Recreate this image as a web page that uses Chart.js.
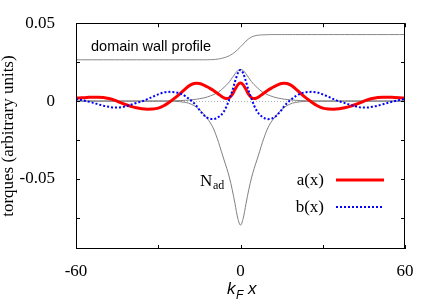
<!DOCTYPE html>
<html>
<head>
<meta charset="utf-8">
<script src="https://cdn.jsdelivr.net/npm/chart.js@4.4.1/dist/chart.umd.min.js"></script>
<style>
html, body { margin: 0; padding: 0; background: #fff; }
</style>
</head>
<body>
<canvas id="chart" width="436" height="305"></canvas>
<script>
// sample positions (k_F x), finer near the wall
var xs = [-60,-58,-56,-54,-52,-50,-48,-46,-44,-42,-40,-38,-36,-34,-32,-30,-28,-26,-24,-22,
    -20,-19,-18,-17,-16,-15,-14,-13,-12,-11,-10,-9,-8,-7,-6,-5,-4,-3,-2,-1,0,
    1,2,3,4,5,6,7,8,9,10,11,12,13,14,15,16,17,18,19,20,
    22,24,26,28,30,32,34,36,38,40,42,44,46,48,50,52,54,56,58,60];

var wallProfile = [0.0265,0.0265,0.0265,0.0265,0.0265,0.0265,0.0265,0.0265,0.0265,0.0265,0.0265,0.0265,0.0265,0.0265,0.0265,0.0265,0.0265,0.0265,0.0265,0.0265,
    0.0265,0.0265,0.0265,0.0265,0.0265,0.0265,0.0265,0.0265,0.0265,0.0266,0.0266,0.0268,0.0270,0.0274,0.0278,0.0284,0.0292,0.0302,0.0315,0.0331,0.0348,
    0.0366,0.0385,0.0400,0.0411,0.0418,0.0422,0.0424,0.0425,0.0426,0.0426,0.0427,0.0427,0.0427,0.0427,0.0427,0.0427,0.0427,0.0427,0.0427,0.0427,
    0.0427,0.0427,0.0427,0.0427,0.0427,0.0427,0.0427,0.0427,0.0427,0.0427,0.0427,0.0427,0.0427,0.0427,0.0427,0.0427,0.0427,0.0427,0.0427,0.0427];

var nAd = [0,0,0,0,0,0,0,0,0,0,0,0,0,0,0,0,0,0,-0.0002,-0.0004,
    -0.0009,-0.0013,-0.0020,-0.0029,-0.0040,-0.0055,-0.0072,-0.0093,-0.0115,-0.0140,-0.0172,-0.0215,-0.0265,-0.0322,-0.0378,-0.0432,-0.0494,-0.0570,-0.0660,-0.0752,-0.0797,
    -0.0752,-0.0660,-0.0570,-0.0494,-0.0432,-0.0378,-0.0322,-0.0265,-0.0215,-0.0172,-0.0140,-0.0115,-0.0093,-0.0072,-0.0055,-0.0040,-0.0029,-0.0020,-0.0013,-0.0009,
    -0.0004,-0.0002,0,0,0,0,0,0,0,0,0,0,0,0,0,0,0,0,0,0];

var grayBump = [0,0,0,0,0,0,0,0,0,0,0,0,0,0,0,0,0,0.0001,0.0002,0.0003,
    0.0005,0.0006,0.0008,0.0010,0.0012,0.0015,0.0018,0.0022,0.0027,0.0033,0.0040,0.0048,0.0058,0.0072,0.0088,0.0105,0.0125,0.0150,0.0175,0.0196,0.0203,
    0.0196,0.0175,0.0150,0.0125,0.0105,0.0088,0.0072,0.0058,0.0048,0.0040,0.0033,0.0027,0.0022,0.0018,0.0015,0.0012,0.0010,0.0008,0.0006,0.0005,
    0.0003,0.0002,0.0001,0,0,0,0,0,0,0,0,0,0,0,0,0,0,0,0,0];

var aValues = [0.0019,0.0021,0.0023,0.0025,0.0025,0.0023,0.0016,0.0006,-0.0008,-0.0022,-0.0034,-0.0043,-0.0049,-0.0052,-0.0051,-0.0045,-0.0030,-0.0007,0.0019,0.0048,
    0.0080,0.0095,0.0106,0.0113,0.0115,0.0113,0.0107,0.0099,0.0090,0.0080,0.0069,0.0057,0.0044,0.0031,0.0021,0.0016,0.0022,0.0042,0.0075,0.0104,0.0116,
    0.0104,0.0075,0.0042,0.0022,0.0016,0.0021,0.0031,0.0044,0.0057,0.0069,0.0080,0.0090,0.0099,0.0107,0.0113,0.0115,0.0113,0.0106,0.0095,0.0080,
    0.0048,0.0019,-0.0007,-0.0030,-0.0045,-0.0051,-0.0052,-0.0049,-0.0043,-0.0034,-0.0022,-0.0008,0.0006,0.0016,0.0023,0.0025,0.0025,0.0023,0.0021,0.0019];

var bValues = [0.0013,0.0007,-0.0001,-0.0010,-0.0020,-0.0030,-0.0037,-0.0042,-0.0041,-0.0034,-0.0024,-0.0012,-0.0002,0.0012,0.0028,0.0043,0.0055,0.0059,0.0057,0.0049,
    0.0030,0.0017,0.0003,-0.0012,-0.0032,-0.0056,-0.0078,-0.0096,-0.0108,-0.0114,-0.0116,-0.0112,-0.0102,-0.0088,-0.0065,-0.0030,0.0015,0.0065,0.0125,0.0178,0.0200,
    0.0178,0.0125,0.0065,0.0015,-0.0030,-0.0065,-0.0088,-0.0102,-0.0112,-0.0116,-0.0114,-0.0108,-0.0096,-0.0078,-0.0056,-0.0032,-0.0012,0.0003,0.0017,0.0030,
    0.0049,0.0057,0.0059,0.0055,0.0043,0.0028,0.0012,-0.0002,-0.0012,-0.0024,-0.0034,-0.0041,-0.0042,-0.0037,-0.0030,-0.0020,-0.0010,-0.0001,0.0007,0.0013];

var xTickMarks = [-60, -30, 0, 30, 60];
var xTickLabels = [-60, 0, 60];
var yTickMarks = [-0.075, -0.05, -0.025, 0, 0.025, 0.05];
var yTickLabels = [-0.05, 0, 0.05];

var SERIF = '"Liberation Serif", "Times New Roman", serif';
var SANS = '"Liberation Sans", Arial, sans-serif';

function points(values) {
    var pts = [];
    for (var i = 0; i < xs.length; i++) {
        pts.push({x: xs[i], y: values[i]});
    }
    return pts;
}

function line(label, values, color, width, dash, order) {
    return {
        label: label,
        data: points(values),
        borderColor: color,
        borderWidth: width,
        borderDash: dash,
        pointRadius: 0,
        fill: false,
        cubicInterpolationMode: 'monotone',
        order: order
    };
}

// box, inward ticks, zero axis and the loose texts
var decorations = {
    id: 'decorations',
    beforeDatasetsDraw: function(chart) {
        var ctx = chart.ctx, area = chart.chartArea;
        var y0 = chart.scales.y.getPixelForValue(0);
        ctx.save();
        ctx.strokeStyle = '#b0b0b0';
        ctx.lineWidth = 1;
        ctx.setLineDash([1, 2]);
        ctx.beginPath();
        ctx.moveTo(area.left, Math.round(y0) + 0.5);
        ctx.lineTo(area.right, Math.round(y0) + 0.5);
        ctx.stroke();
        ctx.restore();
    },
    afterDatasetsDraw: function(chart) {
        var ctx = chart.ctx, area = chart.chartArea;
        var sx = chart.scales.x, sy = chart.scales.y;
        var i, p;
        ctx.save();
        ctx.strokeStyle = '#000';
        ctx.lineWidth = 1;
        ctx.strokeRect(Math.round(area.left) + 0.5, Math.round(area.top) + 0.5,
            Math.round(area.right - area.left) - 1, Math.round(area.bottom - area.top) - 1);
        ctx.beginPath();
        for (i = 0; i < xTickMarks.length; i++) {
            p = Math.round(sx.getPixelForValue(xTickMarks[i])) + 0.5;
            ctx.moveTo(p, area.top); ctx.lineTo(p, area.top + 4);
            ctx.moveTo(p, area.bottom); ctx.lineTo(p, area.bottom - 4);
        }
        for (i = 0; i < yTickMarks.length; i++) {
            p = Math.round(sy.getPixelForValue(yTickMarks[i])) + 0.5;
            ctx.moveTo(area.left, p); ctx.lineTo(area.left + 4, p);
            ctx.moveTo(area.right, p); ctx.lineTo(area.right - 4, p);
        }
        ctx.stroke();

        // domain wall label
        ctx.fillStyle = '#000';
        ctx.textBaseline = 'alphabetic';
        ctx.textAlign = 'left';
        ctx.font = '14.5px ' + SANS;
        ctx.fillText('domain wall profile', 91, 51);

        // N_ad label
        ctx.font = '17px ' + SERIF;
        ctx.fillText('N', 200, 186);
        ctx.font = '12px ' + SERIF;
        ctx.fillText('ad', 213, 189);

        // x axis title
        ctx.font = 'italic 17px ' + SANS;
        ctx.fillText('k', 227, 294);
        ctx.font = 'italic 12px ' + SANS;
        ctx.fillText('F', 236, 299);
        ctx.font = 'italic 17px ' + SANS;
        ctx.fillText('x', 248, 294);

        // key
        var keys = [chart.data.datasets[3], chart.data.datasets[4]];
        var keyY = [180, 207];
        ctx.textAlign = 'right';
        ctx.textBaseline = 'middle';
        ctx.font = '17px ' + SERIF;
        for (i = 0; i < keys.length; i++) {
            ctx.fillText(keys[i].label, 324, keyY[i] + 1);
            ctx.strokeStyle = keys[i].borderColor;
            ctx.lineWidth = keys[i].borderWidth;
            ctx.setLineDash(keys[i].borderDash);
            ctx.beginPath();
            ctx.moveTo(336, keyY[i]);
            ctx.lineTo(384, keyY[i]);
            ctx.stroke();
        }
        ctx.restore();
    }
};

var chart = new Chart(document.getElementById('chart'), {
    type: 'line',
    data: {
        datasets: [
            line('domain wall profile', wallProfile, '#888888', 1, [], 4),
            line('N_ad', nAd, '#808080', 1, [], 3),
            line('bump', grayBump, '#808080', 1, [], 3),
            line('a(x)', aValues, '#ff0000', 3, [], 1),
            line('b(x)', bValues, '#0000ff', 2, [2, 2], 0)
        ]
    },
    options: {
        responsive: false,
        animation: false,
        layout: { padding: { top: 22, right: 31, left: 0, bottom: 0 } },
        plugins: { legend: { display: false }, tooltip: { enabled: false } },
        scales: {
            x: {
                type: 'linear',
                min: -60,
                max: 60,
                grid: { display: false },
                border: { display: false },
                afterBuildTicks: function(s) {
                    s.ticks = xTickLabels.map(function(v) { return {value: v}; });
                },
                afterFit: function(s) { s.height = 56; },
                ticks: {
                    color: '#000',
                    font: { family: SERIF, size: 17 },
                    padding: 4,
                    maxRotation: 0,
                    callback: function(v) { return String(v); }
                }
            },
            y: {
                min: -0.095,
                max: 0.05,
                grid: { display: false },
                border: { display: false },
                afterBuildTicks: function(s) {
                    s.ticks = yTickLabels.map(function(v) { return {value: v}; });
                },
                afterFit: function(s) { s.width = 76; },
                ticks: {
                    color: '#000',
                    font: { family: SERIF, size: 17 },
                    padding: 13,
                    callback: function(v) { return String(v); }
                },
                title: {
                    display: true,
                    text: 'torques (arbitrary units)',
                    color: '#000',
                    font: { family: SERIF, size: 17, lineHeight: 1 },
                    padding: { top: 0, bottom: 0 }
                }
            }
        }
    },
    plugins: [decorations]
});
</script>
</body>
</html>
